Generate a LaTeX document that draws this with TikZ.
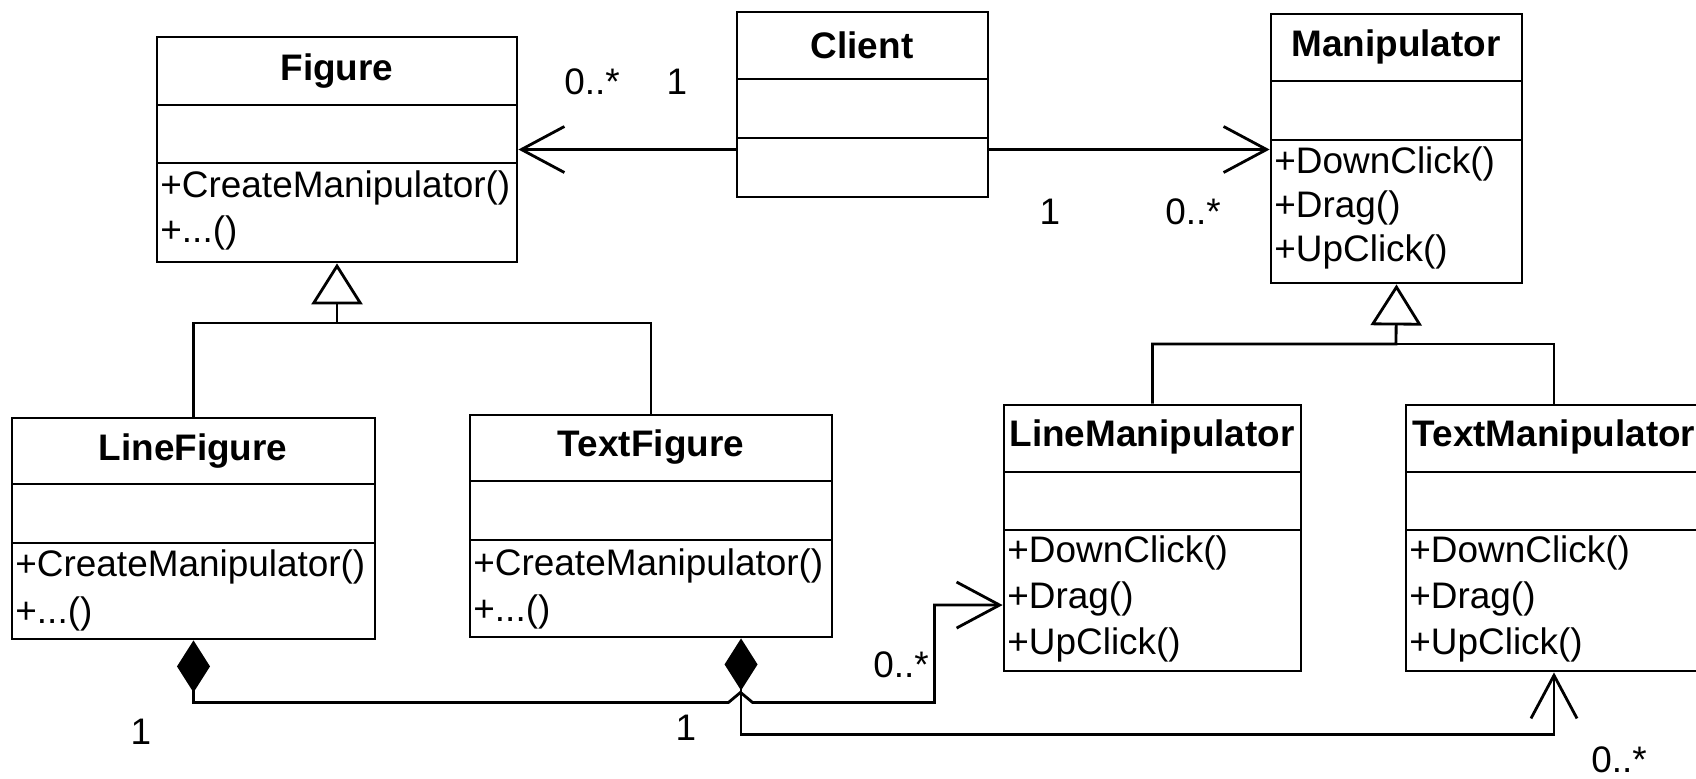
\documentclass[tikz,border=0pt]{standalone}
\usepackage{fontspec}
\setmainfont{Liberation Sans}
\usetikzlibrary{arrows.meta,fit}

\tikzset{
  classbox/.style={draw, inner sep=0pt},
  title/.style={font=\fontsize{10.5}{12.6}\selectfont\bfseries, inner sep=0pt},
  op/.style={anchor=west, inner sep=0pt},
  mult/.style={inner sep=0pt},
  assoc/.style={-{Straight Barb[length=4.3mm,width=4.6mm]}},
  inherit/.style={-{Triangle[open,length=4.1mm,width=5.1mm]}},
  compose/.style={{Diamond[length=5.2mm,width=3.3mm]}-{Straight Barb[length=4.3mm,width=4.6mm]}},
}

\begin{document}
\begin{tikzpicture}[x=0.01cm, y=-0.01cm, line width=0.8pt, font=\fontsize{10.5}{12.6}\selectfont]
	\useasboundingbox (0,0) rectangle (1696,778);
	% classes
	\node[classbox, fit={(157,37) (517,262)}] (figure) {};
	\draw (157,105) -- (517,105) (157,163) -- (517,163);
	\node[title] (figuret) at (337,71) {Figure};
	\node[op] (figureo1) at (159,188) {+CreateManipulator()};
	\node[op] (figureo2) at (159,233) {+...()};

	\node[classbox, fit={(737,12) (988,197)}] (client) {};
	\draw (737,79) -- (988,79) (737,138) -- (988,138);
	\node[title] (clientt) at (862,45) {Client};

	\node[classbox, fit={(1271,14) (1522,283)}] (manip) {};
	\draw (1271,81) -- (1522,81) (1271,140) -- (1522,140);
	\node[title] (manipt) at (1396,47) {Manipulator};
	\foreach \t [count=\i] in {DownClick,Drag,UpClick}
	  \node[op] (manipo\i) at (1273,120+44*\i) {+\t()};

	\node[classbox, fit={(12,418) (375,639)}] (linefig) {};
	\draw (12,484) -- (375,484) (12,543) -- (375,543);
	\node[title] (linefigt) at (193,451) {LineFigure};
	\node[op] (linefigo1) at (14,567) {+CreateManipulator()};
	\node[op] (linefigo2) at (14,614) {+...()};

	\node[classbox, fit={(470,415) (832,637)}] (textfig) {};
	\draw (470,481) -- (832,481) (470,540) -- (832,540);
	\node[title] (textfigt) at (651,447) {TextFigure};
	\node[op] (textfigo1) at (472,566) {+CreateManipulator()};
	\node[op] (textfigo2) at (472,612) {+...()};

	\node[classbox, fit={(1004,405) (1301,671)}] (linemanip) {};
	\draw (1004,472) -- (1301,472) (1004,530) -- (1301,530);
	\node[title] (linemanipt) at (1152,437) {LineManipulator};
	\foreach \t [count=\i] in {DownClick,Drag,UpClick}
	  \node[op] (linemanipo\i) at (1006,507+46*\i) {+\t()};

	\node[classbox, fit={(1406,405) (1702,671)}] (textmanip) {};
	\draw (1406,472) -- (1702,472) (1406,530) -- (1702,530);
	\node[title] (textmanipt) at (1554,437) {TextManipulator};
	\foreach \t [count=\i] in {DownClick,Drag,UpClick}
	  \node[op] (textmanipo\i) at (1408,507+46*\i) {+\t()};

	% generalization
	\coordinate (fbus) at (337,323);
	\draw[inherit] (linefig.north) |- (fbus) -- (figure.south);
	\draw (textfig.north) |- (fbus);
	\coordinate (mbus) at (1396,344);
	\draw[inherit] (linemanip.north) |- (mbus) -- (manip.south);
	\draw (textmanip.north) |- (mbus);

	% associations
	\draw[assoc] (client.west |- figure.east) -- (figure.east);
	\draw[assoc] (client.east |- figure.east) -- (manip.west |- figure.east);
	\draw[compose] (linefig.south) -- ++(0,62) -- ++(535,0) -- ++(12,-10) -- ++(12,10) -- ++(182,0)
	  |- ([yshift=-0.67cm]linemanip.west);
	\draw[compose] ([xshift=0.9cm]textfig.south) -- ++(0,96) -| (textmanip.south);

	% multiplicities
	\node[mult] (m1) at (592,82) {0..*};
	\node[mult] (m2) at (677,82) {1};
	\node[mult] (m3) at (1050,212) {1};
	\node[mult] (m4) at (1193,212) {0..*};
	\node[mult] (m5) at (901,665) {0..*};
	\node[mult] (m6) at (141,732) {1};
	\node[mult] (m7) at (686,728) {1};
	\node[mult] (m8) at (1619,760) {0..*};
\end{tikzpicture}
\end{document}
